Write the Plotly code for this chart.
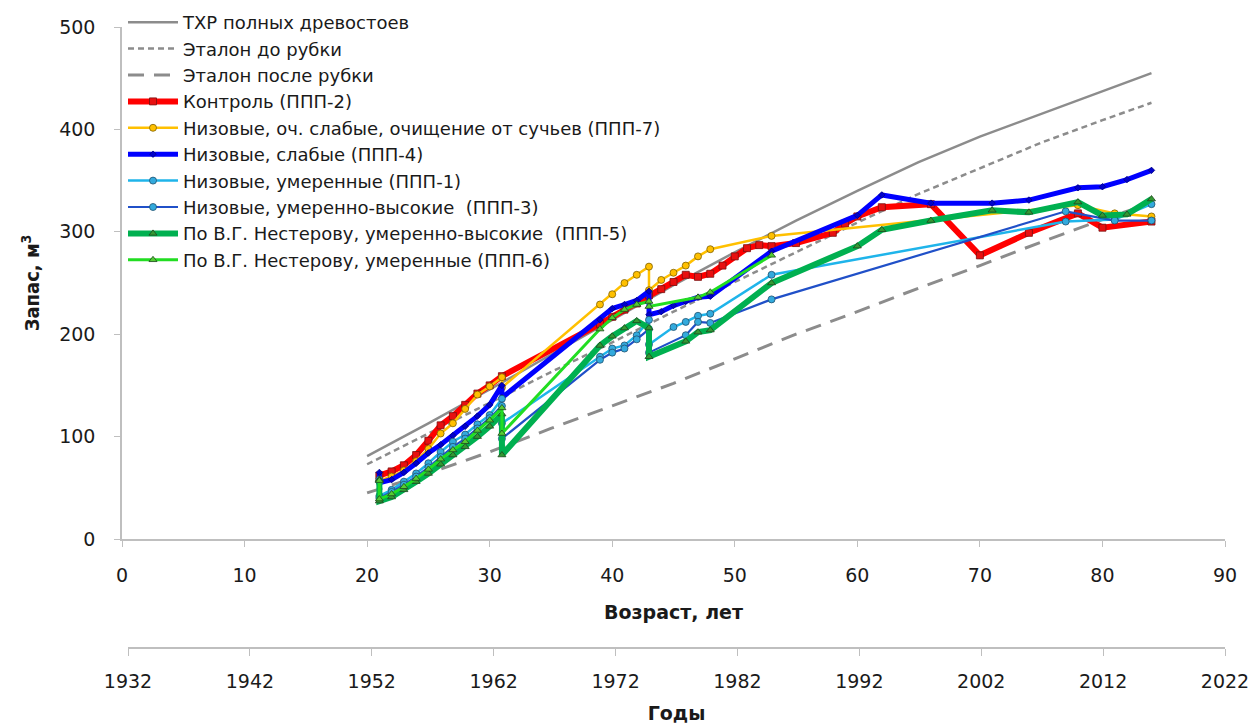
import plotly.graph_objects as go

# ---------------- data ----------------
ref_age = [20, 25, 30, 35, 40, 45, 50, 55, 60, 65, 70, 75, 80, 84]
txr_full = [81, 113, 146, 180, 214, 248, 280, 311, 340, 368, 393, 415, 437, 455]
etalon_before = [73, 103, 133, 163, 192, 222, 251, 280, 309, 337, 362, 387, 409, 426]
etalon_after = [45, 64, 85, 108, 130, 152, 176, 200, 222, 245, 267, 290, 312, 328]

ctrl_age = [21, 22, 23, 24, 25, 26, 27, 28, 29, 30, 31, 39, 40, 41, 42, 43, 44, 45, 46, 47, 48,
            49, 50, 51, 52, 53, 55, 58, 59, 60, 62, 66, 70, 74, 78, 80, 84]
ctrl_val = [62, 66, 72, 82, 96, 111, 120, 131, 142, 150, 159, 210, 217, 224, 230, 238, 244, 251, 258, 256, 259,
            267, 276, 284, 287, 286, 289, 299, 308, 315, 324, 327, 277, 299, 318, 304, 310]

p7_age = [21, 22, 23, 24, 25, 26, 27, 28, 29, 30, 31, 31, 39, 40, 41, 42, 43, 43, 44, 45, 46, 47, 48,
          53, 78, 81, 84]
p7_val = [57, 61, 67, 76, 88, 103, 113, 127, 141, 149, 158, 148, 229, 239, 250, 258, 266, 243, 253, 260, 267, 276, 283,
          296, 326, 318, 315]

p4_age = [21, 21, 22, 23, 24, 25, 26, 27, 28, 29, 30, 31, 31, 39, 40, 41, 42, 43, 43, 44, 45, 46, 47, 48,
          53, 60, 62, 66, 71, 74, 78, 80, 82, 84]
p4_val = [65, 55, 58, 65, 74, 84, 92, 101, 110, 120, 131, 150, 138, 214, 225, 229, 233, 242, 219, 222, 228, 232, 236, 237,
          281, 316, 336, 328, 328, 331, 343, 344, 351, 360]

p1_age = [21, 21, 22, 23, 24, 25, 26, 27, 28, 29, 30, 31, 31, 39, 40, 41, 42, 43, 43, 45, 46, 47, 48,
          53, 77, 81, 84]
p1_val = [58, 42, 48, 56, 64, 74, 85, 95, 102, 112, 121, 137, 113, 178, 186, 189, 199, 214, 190, 207, 212, 218, 220,
          258, 310, 312, 327]

p3_age = [21, 21, 22, 23, 24, 25, 26, 27, 28, 29, 30, 31, 31, 39, 40, 41, 42, 43, 43, 46, 47, 48,
          53, 77, 81, 84]
p3_val = [56, 40, 46, 53, 61, 70, 80, 90, 98, 108, 118, 130, 98, 175, 182, 186, 195, 205, 182, 199, 212, 211,
          234, 320, 311, 311]

p5_age = [21, 21, 22, 23, 24, 25, 26, 27, 28, 29, 30, 31, 31, 39, 40, 41, 42, 43, 43, 46, 47, 48,
          53, 60, 62, 66, 71, 74, 78, 80, 82, 84]
p5_val = [58, 37, 41, 48, 56, 64, 73, 82, 90, 100, 110, 122, 82, 189, 198, 206, 213, 206, 178, 193, 202, 204,
          250, 286, 302, 311, 321, 319, 329, 316, 317, 332]

p6_age = [21, 21, 22, 23, 24, 25, 26, 27, 28, 29, 30, 31, 31, 39, 40, 41, 42, 43, 43, 47, 48, 53]
p6_val = [57, 39, 44, 51, 59, 68, 78, 87, 95, 106, 116, 128, 103, 205, 216, 224, 229, 232, 227, 236, 241, 277]

age_ticks = [0, 10, 20, 30, 40, 50, 60, 70, 80, 90]
year_ticks = [1932, 1942, 1952, 1962, 1972, 1982, 1992, 2002, 2012, 2022]
v_ticks = [0, 100, 200, 300, 400, 500]

names = [
    "ТХР полных древостоев",
    "Эталон до рубки",
    "Эталон после рубки",
    "Контроль (ППП-2)",
    "Низовые, оч. слабые, очищение от сучьев (ППП-7)",
    "Низовые, слабые (ППП-4)",
    "Низовые, умеренные (ППП-1)",
    "Низовые, умеренно-высокие  (ППП-3)",
    "По В.Г. Нестерову, умеренно-высокие  (ППП-5)",
    "По В.Г. Нестерову, умеренные (ППП-6)",
]

# ---------------- figure ----------------
FONT = "DejaVu Sans"
AXC = "#BFBFBF"
TXT = "#1A1A1A"
fig = go.Figure()

gray = "#8C8C8C"
fig.add_trace(go.Scatter(x=ref_age, y=txr_full, mode="lines", name=names[0],
                         line=dict(color=gray, width=2.5)))
fig.add_trace(go.Scatter(x=ref_age, y=etalon_before, mode="lines", name=names[1],
                         line=dict(color=gray, width=2.5, dash="6px,4px")))
fig.add_trace(go.Scatter(x=ref_age, y=etalon_after, mode="lines", name=names[2],
                         line=dict(color=gray, width=3, dash="16px,10px")))


def series(x, y, name, lc, lw, sym, ms, mc, mlc="#333333"):
    fig.add_trace(go.Scatter(
        x=x, y=y, mode="lines+markers", name=name,
        line=dict(color=lc, width=lw),
        marker=dict(symbol=sym, size=ms, color=mc, line=dict(color=mlc, width=0.8)),
    ))


series(ctrl_age, ctrl_val, names[3], "#FF0000", 6, "square", 7, "#E81010", "#7A1010")
series(p7_age, p7_val, names[4], "#FFC000", 2.5, "circle", 7, "#FFC000", "#7F6000")
series(p4_age, p4_val, names[5], "#0000FF", 5, "diamond", 5, "#0000CC", "#000080")
series(p1_age, p1_val, names[6], "#1FB4EA", 2.5, "circle", 7, "#33AADD", "#20506E")
series(p3_age, p3_val, names[7], "#2050C8", 2.2, "circle", 7, "#33AADD", "#20506E")
series(p5_age, p5_val, names[8], "#00B050", 6, "triangle-up", 7, "#339933", "#1E4620")
series(p6_age, p6_val, names[9], "#22DD22", 3, "triangle-up", 7, "#55CC33", "#1E4620")

# invisible trace carrying the calendar-year axis
fig.add_trace(go.Scatter(x=[year_ticks[0], year_ticks[-1]], y=[v_ticks[0], v_ticks[0]],
                         xaxis="x2", yaxis="y", mode="lines", line=dict(width=0, color="rgba(0,0,0,0)"),
                         showlegend=False, hoverinfo="skip"))

W, H = 1251, 724
ml, mr, mt, mb = 122, 26, 27, 76
ph = H - mt - mb
pw = W - ml - mr
y_dom0 = (648 - 539) / ph

tickfont = dict(family=FONT, size=19, color=TXT)
fig.update_layout(
    width=W, height=H,
    margin=dict(l=ml, r=mr, t=mt, b=mb, autoexpand=False),
    paper_bgcolor="white", plot_bgcolor="rgba(0,0,0,0)",
    showlegend=True,
    legend=dict(
        x=(123 - ml) / pw, y=1 + (mt - 4) / ph, xanchor="left", yanchor="top",
        font=dict(family=FONT, size=18, color=TXT),
        bgcolor="rgba(0,0,0,0)", itemwidth=50, tracegroupgap=0,
    ),
    xaxis=dict(
        domain=[0, 1], range=[0, 90], tickvals=age_ticks, ticktext=[str(t) for t in age_ticks],
        showline=True, linecolor=AXC, linewidth=1.5, ticks="outside", ticklen=6, tickcolor=AXC,
        showgrid=False, zeroline=False, tickfont=tickfont, ticklabelstandoff=12,
        title=dict(text="<b>Возраст, лет</b>", font=dict(family=FONT, size=19, color=TXT), standoff=21),
        anchor="y", automargin=False,
    ),
    xaxis2=dict(
        domain=[6 / pw, 1], range=[year_ticks[0], year_ticks[-1]], tickvals=year_ticks,
        ticktext=[str(t) for t in year_ticks],
        showline=True, linecolor=AXC, linewidth=1.5, ticks="outside", ticklen=7, tickcolor=AXC,
        showgrid=False, zeroline=False, tickfont=tickfont, ticklabelstandoff=9,
        title=dict(text="<b>Годы</b>", font=dict(family=FONT, size=19, color=TXT), standoff=16),
        anchor="free", position=0, automargin=False,
    ),
    yaxis=dict(
        domain=[y_dom0, 1], range=[0, 500], tickvals=v_ticks, ticktext=[str(t) for t in v_ticks],
        showline=True, linecolor=AXC, linewidth=1.5, ticks="outside", ticklen=6, tickcolor=AXC,
        showgrid=False, zeroline=False, tickfont=tickfont, ticklabelstandoff=15,
        title=dict(text="<b>Запас, м<sup>3</sup></b>",
                   font=dict(family="DejaVu Sans Condensed", size=20, color=TXT), standoff=14),
        automargin=False,
    ),
)

fig.write_html("out.html")
